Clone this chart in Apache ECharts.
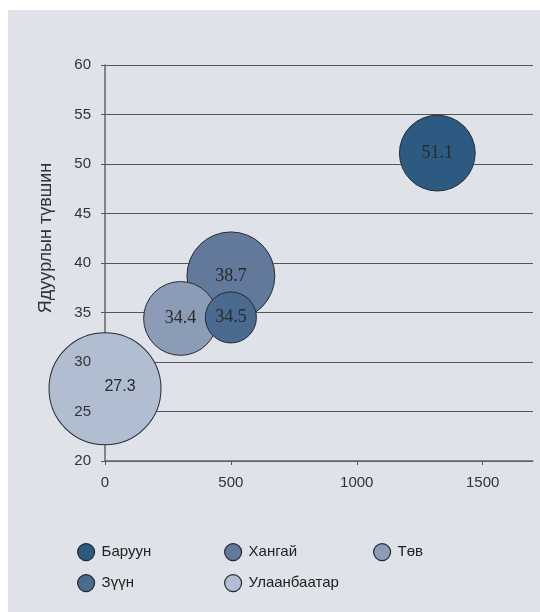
<!DOCTYPE html>
<html>
<head>
<meta charset="utf-8">
<script src="https://cdn.jsdelivr.net/npm/echarts@6/dist/echarts.min.js"></script>
<style>
  html, body { margin: 0; padding: 0; background: #ffffff; }
  #bg { position: absolute; left: 8px; top: 10px; width: 532px; height: 602px; background: #dfe2e9; }
  #chart { position: absolute; left: 0; top: 0; width: 540px; height: 612px; }
</style>
</head>
<body>
<div id="bg"></div>
<div id="chart"></div>
<script>
// Data
const regions = ['Баруун', 'Хангай', 'Төв', 'Зүүн', 'Улаанбаатар'];
const xValues = [1320, 500, 300, 500, 0];
const povertyRate = [51.1, 38.7, 34.4, 34.5, 27.3];
const bubbleSize = [595, 800, 565, 270, 1300];
const xTicks = [0, 500, 1000, 1500];
const yTicks = [20, 25, 30, 35, 40, 45, 50, 55, 60];
const yAxisTitle = 'Ядуурлын түвшин';

const colors = ['#2d5a80', '#62799b', '#8c9cb6', '#4a6a8f', '#b1bdd0'];
const sans = 'Liberation Sans, Arial, sans-serif';
const serif = 'Liberation Serif, Times New Roman, serif';

const chart = echarts.init(document.getElementById('chart'), null, { renderer: 'canvas' });

const series = regions.map((name, i) => ({
  name: name,
  type: 'scatter',
  xAxisIndex: 0,
  yAxisIndex: 0,
  z: 3 + i,
  data: [[xValues[i], povertyRate[i], bubbleSize[i]]],
  symbolSize: v => 3.106 * Math.sqrt(v[2]),
  itemStyle: { color: colors[i], borderColor: '#262a30', borderWidth: 1, opacity: 1 },
  emphasis: { disabled: true },
  label: {
    show: true,
    position: 'inside',
    formatter: p => p.value[1].toFixed(1),
    color: '#2a2a2a',
    fontFamily: name === 'Улаанбаатар' ? sans : serif,
    fontSize: name === 'Улаанбаатар' ? 16 : 18,
    offset: name === 'Улаанбаатар' ? [15, -2] : [0, 0]
  }
}));

const legendPos = [
  [77, 543], [224, 543], [373, 543],
  [77, 574], [224, 574]
];
const legends = regions.map((name, i) => ({
  data: [{ name: name, icon: 'circle', itemStyle: { color: colors[i], borderColor: '#262a30', borderWidth: 1.2 } }],
  left: legendPos[i][0],
  top: legendPos[i][1],
  orient: 'horizontal',
  itemWidth: 17,
  itemHeight: 17,
  itemGap: 6,
  padding: 0,
  selectedMode: false,
  textStyle: { fontFamily: sans, fontSize: 15, color: '#222222', padding: [0, 0, 0, 2] }
}));

const yBase = {
  type: 'value',
  min: yTicks[0],
  max: yTicks[yTicks.length - 1],
  interval: 5,
  position: 'left'
};

chart.setOption({
  animation: false,
  backgroundColor: 'transparent',
  legend: legends,
  graphic: [{
    type: 'text',
    x: 46,
    y: 238,
    rotation: Math.PI / 2,
    style: {
      text: yAxisTitle,
      fontFamily: sans,
      fontSize: 18,
      fill: '#333333',
      align: 'center',
      verticalAlign: 'middle'
    }
  }],
  grid: { left: 105, right: 7, top: 65, bottom: 151, containLabel: false },
  xAxis: {
    type: 'value',
    min: 0,
    max: 1700,
    interval: 500,
    axisLine: { show: true, lineStyle: { color: '#666666', width: 1.5 } },
    axisTick: { show: true, length: 4, lineStyle: { color: '#555555' }, customValues: xTicks },
    axisLabel: { fontFamily: sans, fontSize: 15, color: '#333333', margin: 14, customValues: xTicks, formatter: v => String(v) },
    splitLine: { show: false }
  },
  yAxis: [
    Object.assign({}, yBase, {
      z: 0,
      axisLine: { show: true, lineStyle: { color: '#666666', width: 1.5 } },
      axisTick: { show: true, length: 4, lineStyle: { color: '#555555' } },
      axisLabel: { show: false },
      splitLine: { show: true, lineStyle: { color: '#555555', width: 1 } }
    }),
    Object.assign({}, yBase, {
      z: 20,
      axisLine: { show: false },
      axisTick: { show: false },
      splitLine: { show: false },
      axisLabel: { show: true, fontFamily: sans, fontSize: 15, color: '#333333', margin: 14, formatter: v => String(v) }
    })
  ],
  series: series
});
</script>
</body>
</html>
